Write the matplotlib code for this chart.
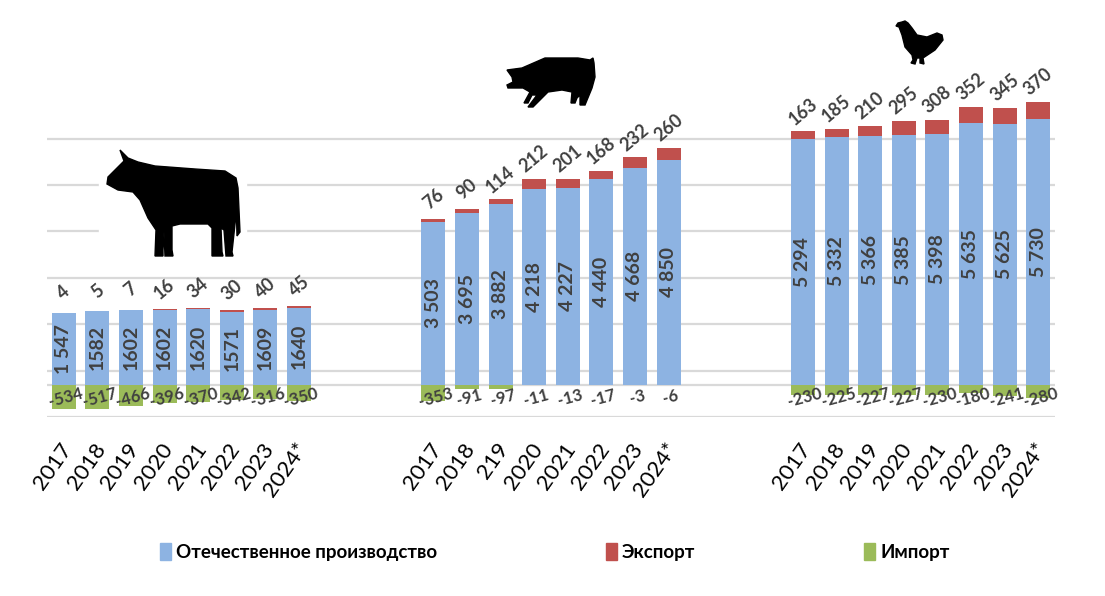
import matplotlib
matplotlib.use('Agg')
from matplotlib import pyplot as plt
from matplotlib.patches import Polygon, Rectangle
import numpy as np

plt.rcParams['font.family'] = ['Lato', 'DejaVu Sans']

# данные
years = ['2017', '2018', '2019', '2020', '2021', '2022', '2023', '2024*']
years_pork = ['2017', '2018', '219', '2020', '2021', '2022', '2023', '2024*']

beef_prod = [1547, 1582, 1602, 1602, 1620, 1571, 1609, 1640]
beef_prod_labels = ['1 547', '1582', '1602', '1602', '1620', '1571', '1609', '1640']
beef_exp = [4, 5, 7, 16, 34, 30, 40, 45]
beef_imp = [-534, -517, -466, -396, -370, -342, -316, -350]

pork_prod = [3503, 3695, 3882, 4218, 4227, 4440, 4668, 4850]
pork_exp = [76, 90, 114, 212, 201, 168, 232, 260]
pork_imp = [-353, -91, -97, -11, -13, -17, -3, -6]

poultry_prod = [5294, 5332, 5366, 5385, 5398, 5635, 5625, 5730]
poultry_exp = [163, 185, 210, 295, 308, 352, 345, 370]
poultry_imp = [-230, -225, -227, -227, -230, -180, -241, -280]

grid_vals = [-700, 0, 300, 1300, 2300, 3300, 4300, 5300]

BLUE = '#8db3e2'
RED = '#c0504d'
GREEN = '#9bbb59'
TXT = '#404040'

fig = plt.figure(figsize=(11.05, 5.96), dpi=100)
ax = fig.add_axes([47 / 1105, (596 - 417) / 596, (1055 - 47) / 1105, 397 / 596])
ax.set_xlim(-0.5, 29.5)
ax.set_ylim(-700, 7860)
ax.axis('off')

for g in grid_vals:
    ax.axhline(g, color='#d9d9d9', lw=1.6, zorder=0)

groups = [
    (0, years, beef_prod, beef_prod_labels, beef_exp, beef_imp),
    (11, years_pork, pork_prod, [f'{v:,}'.replace(',', ' ') for v in pork_prod], pork_exp, pork_imp),
    (22, years, poultry_prod, [f'{v:,}'.replace(',', ' ') for v in poultry_prod], poultry_exp, poultry_imp),
]

w = 0.71
for start, yl, prod, plab, exp, imp in groups:
    x = np.arange(len(prod)) + start
    prod = np.array(prod)
    exp = np.array(exp)
    ax.bar(x, prod, w, color=BLUE, zorder=2)
    ax.bar(x, exp, w, bottom=prod, color=RED, zorder=2)
    ax.bar(x, imp, w, color=GREEN, zorder=2)
    for i in range(len(x)):
        ax.text(x[i], prod[i] / 2, plab[i], rotation=90, ha='center', va='center',
                fontsize=14, fontweight='bold', color=TXT, zorder=3)
        ax.annotate(str(exp[i]), (x[i], prod[i] + exp[i]), xytext=(0, 20),
                    textcoords='offset pixels', rotation=40, ha='center', va='center',
                    fontsize=13, fontweight='bold', color=TXT)
        ax.annotate(str(imp[i]), (x[i], 0), xytext=(2, -13),
                    textcoords='offset pixels', rotation=15, ha='center', va='center',
                    fontsize=12, fontweight='bold', color=TXT, zorder=3)
        ax.annotate(yl[i], (x[i], -700), xytext=(4, -28),
                    textcoords='offset pixels', rotation=55, ha='right', va='center',
                    rotation_mode='anchor', fontsize=16, color='black', annotation_clip=False)

# легенда
h1 = Rectangle((0, 0), 1, 1, color=BLUE)
h2 = Rectangle((0, 0), 1, 1, color=RED)
h3 = Rectangle((0, 0), 1, 1, color=GREEN)
fig.legend([h1, h2, h3], ['Отечественное производство', 'Экспорт', 'Импорт'],
           loc='center', bbox_to_anchor=(555 / 1105, (596 - 552) / 596), ncol=3,
           frameon=False, handlelength=0.55, handleheight=1.0, handletextpad=0.3,
           columnspacing=9.0, prop={'weight': 'bold', 'size': 13.5})

# силуэты животных (пиксели)
ic = fig.add_axes([0, 0, 1, 1], zorder=5)
ic.set_xlim(0, 1105)
ic.set_ylim(596, 0)
ic.axis('off')
ic.patch.set_alpha(0)

cow = [(120, 150), (128, 158), (138, 162), (155, 166), (195, 169), (225, 171), (236, 178),
       (238, 188), (240, 232), (237, 236), (236, 196), (236, 215), (232, 252), (233, 256),
       (226, 256), (224, 230), (221, 228), (222, 252), (223, 256), (212, 256), (212, 228),
       (208, 224), (180, 224), (172, 226), (172, 250), (173, 256), (165, 256), (164, 232),
       (163, 250), (163, 256), (155, 256), (156, 230), (148, 218), (140, 200), (133, 192),
       (118, 190), (107, 184), (108, 177), (118, 167), (124, 161)]
pig = [(507, 70), (522, 68), (545, 58), (578, 58), (590, 60), (593, 58), (594, 63),
       (595, 77), (592, 88), (585, 105), (580, 105), (580, 95), (577, 98), (575, 103),
       (571, 103), (572, 92), (562, 90), (548, 92), (545, 95), (533, 107), (528, 107),
       (537, 95), (532, 95), (528, 103), (524, 103), (530, 92), (523, 88), (515, 88),
       (508, 88), (507, 85), (513, 82), (512, 77)]
hen = [(902, 22), (898, 23), (896, 26), (899, 27), (902, 35), (905, 47), (912, 55),
       (913, 60), (911, 63), (915, 64), (917, 58), (920, 58), (920, 63), (924, 64),
       (923, 58), (935, 50), (943, 40), (942, 35), (937, 33), (927, 37), (917, 35),
       (912, 28), (908, 23), (905, 21)]

ic.add_patch(Rectangle((99, 148), 147, 114, color='white'))
for shape in (cow, pig, hen):
    ic.add_patch(Polygon(shape, closed=True, color='black'))

fig.savefig('out.png', dpi=100)
